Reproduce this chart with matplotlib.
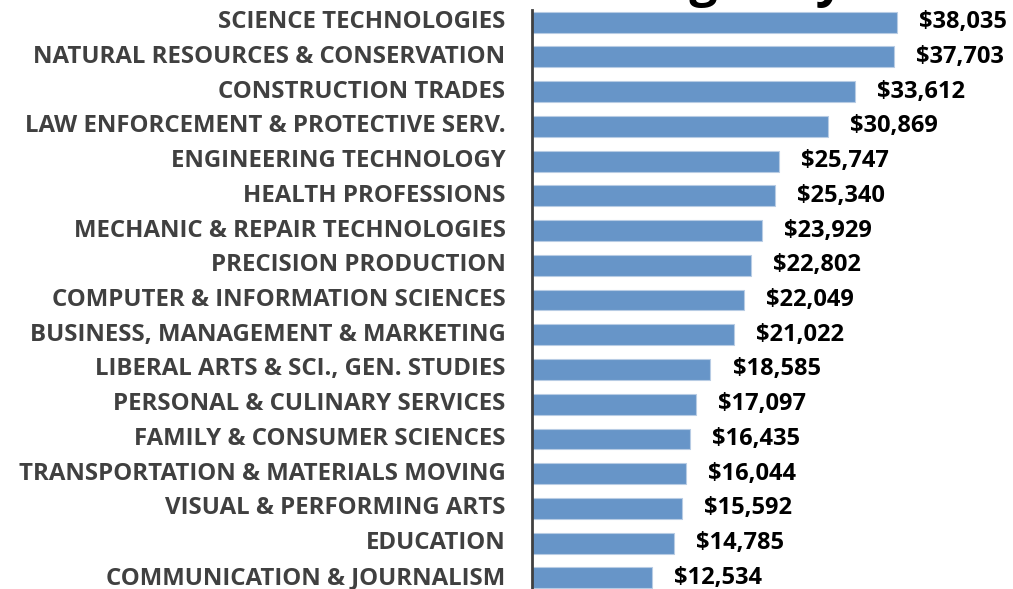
import matplotlib.pyplot as plt
import matplotlib.transforms as mtransforms
import numpy as np

categories = [
    "SCIENCE TECHNOLOGIES",
    "NATURAL RESOURCES & CONSERVATION",
    "CONSTRUCTION TRADES",
    "LAW ENFORCEMENT & PROTECTIVE SERV.",
    "ENGINEERING TECHNOLOGY",
    "HEALTH PROFESSIONS",
    "MECHANIC & REPAIR TECHNOLOGIES",
    "PRECISION PRODUCTION",
    "COMPUTER & INFORMATION SCIENCES",
    "BUSINESS, MANAGEMENT & MARKETING",
    "LIBERAL ARTS & SCI., GEN. STUDIES",
    "PERSONAL & CULINARY SERVICES",
    "FAMILY & CONSUMER SCIENCES",
    "TRANSPORTATION & MATERIALS MOVING",
    "VISUAL & PERFORMING ARTS",
    "EDUCATION",
    "COMMUNICATION & JOURNALISM",
]
earnings = [38035, 37703, 33612, 30869, 25747, 25340, 23929, 22802, 22049,
            21022, 18585, 17097, 16435, 16044, 15592, 14785, 12534]

plt.rcParams['font.family'] = ['Open Sans', 'DejaVu Sans']

fig = plt.figure(figsize=(10.13, 5.89), dpi=100)
ax = fig.add_axes([532 / 1013, 0, 1 - 532 / 1013, 1 - 10 / 589])

y = np.arange(len(categories))
ax.barh(y, earnings, height=0.6, color='#6795C8', edgecolor='#B8CCE4', linewidth=0.8)

for yi, v in zip(y, earnings):
    ax.text(v + 2300, yi, f"${v:,}", va='center', ha='left',
            fontsize=17, fontweight='bold', color='black')

ax.set_xlim(0, 50100)
ax.set_ylim(len(categories) - 1 + 0.32, -0.35)
ax.set_yticks(y)
ax.set_yticklabels(categories, fontsize=17.3, fontweight='bold', color='#404040')
ax.tick_params(axis='y', length=0, pad=19)
# nudge category labels up a few pixels
up = mtransforms.ScaledTranslation(0, 3 / 100, fig.dpi_scale_trans)
for lab in ax.get_yticklabels():
    lab.set_transform(lab.get_transform() + up)
ax.set_xticks([])
for s in ['top', 'right', 'bottom']:
    ax.spines[s].set_visible(False)
ax.spines['left'].set_color('#404040')
ax.spines['left'].set_linewidth(2)

# title sits mostly above the canvas, only descenders show
fig.text(0.685, 1.0 + 4 / 589, "Median Wages by Field", ha='center', va='baseline',
         fontsize=36, fontweight='bold', color='black')

fig.savefig("out.png", dpi=100)
